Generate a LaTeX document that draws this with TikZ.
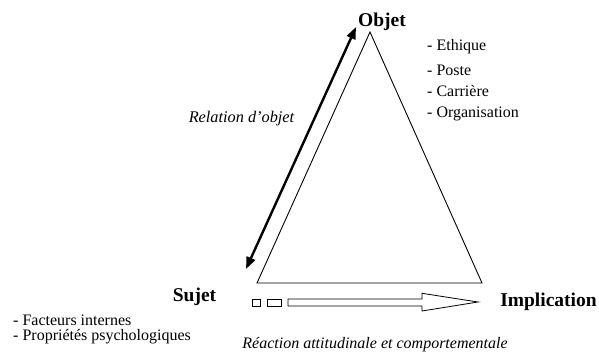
\documentclass[tikz,border=0pt]{standalone}
\usepackage{fontspec}
\setmainfont{Liberation Serif}
\usetikzlibrary{arrows.meta}
\begin{document}
\begin{tikzpicture}[x=1pt,y=-1pt,
  big/.style={font=\fontsize{19.5}{22}\selectfont\bfseries, inner sep=0pt},
  item/.style={font=\fontsize{16}{18}\selectfont, inner sep=0pt, anchor=west},
  itl/.style={font=\fontsize{16.3}{18}\selectfont\itshape, inner sep=0pt},
  tri/.style={draw=black, line width=0.9pt, line join=miter},
  rel/.style={draw=black, line width=2.4pt, {Triangle[length=12pt,width=9pt]}-{Triangle[length=12pt,width=9pt]}},
  hollow/.style={draw=black, line width=0.8pt, fill=white}
]
\useasboundingbox (0,0) rectangle (599,356);
% triangle vertices
\coordinate (O) at (370,32);
\coordinate (S) at (257,283);
\coordinate (I) at (482,283);
\draw[tri] (O) -- (S) -- (I) -- cycle;
% relation arrow
\coordinate (rA) at (356,27);
\coordinate (rB) at (246,269);
\draw[rel] (rA) -- (rB);
% labels
\node[big] (objet) at (382,22) {Objet};
\node[big] (sujet) at (194.5,297) {Sujet};
\node[big] (impl) at (548.5,302) {Implication};
\node[itl] (relation) at (241.5,119) {Relation d’objet};
\node[itl, font=\fontsize{16}{18}\selectfont\itshape] (reaction) at (375,345) {Réaction attitudinale et comportementale};
% lists
\node[item] (e1) at (427,47) {- Ethique};
\node[item] (e2) at (427,70) {- Poste};
\node[item] (e3) at (427,91) {- Carrière};
\node[item] (e4) at (427,114) {- Organisation};
\node[item] (f1) at (13,320) {- Facteurs internes};
\node[item] (f2) at (13,337) {- Propriétés psychologiques};
% hollow arrow with small boxes
\draw[hollow] (252,299) rectangle (260,306);
\draw[hollow] (267,299) rectangle (281,306);
\draw[hollow] (288,299) -- (422,299) -- (422,293.3) -- (478,302) -- (422,311) -- (422,306) -- (288,306) -- cycle;
\end{tikzpicture}
\end{document}
